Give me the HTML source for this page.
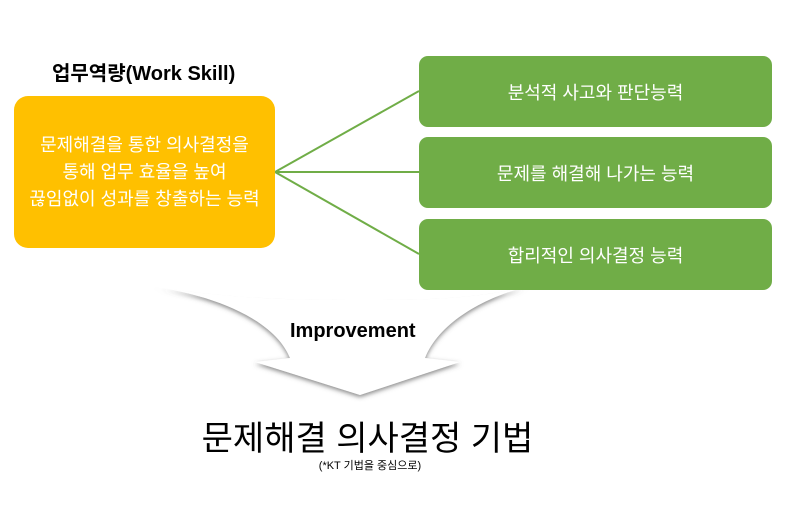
<!DOCTYPE html>
<html><head><meta charset="utf-8"><style>
body{margin:0;width:785px;height:530px;background:#fff;overflow:hidden;position:relative;font-family:"Liberation Sans","Noto Sans CJK KR",sans-serif}
.t{position:absolute}
.g{position:absolute;left:419px;width:353px;height:71px;background:#70AD47;border-radius:9px;color:#fff;font-size:18px;display:flex;align-items:center;justify-content:center}
</style></head><body>
<svg width="785" height="530" style="position:absolute;left:0;top:0">
<defs><filter id="s" x="-20%" y="-20%" width="140%" height="140%"><feDropShadow dx="0" dy="2" stdDeviation="2.5" flood-color="#555" flood-opacity="0.7"/></filter></defs>
<path d="M150,286 C215,295 275,320 290,358 L255,362 L360,395 L460,362 L425,358 C440,320 490,295 530,286 C470,300 420,300 360,300 C300,300 240,300 150,286 Z" fill="#fff" filter="url(#s)"/>
<path d="M150,286 C240,300 300,300 360,300 C420,300 470,300 530,286 L530,278 L150,278Z" fill="#fff"/>
<g stroke="#70AD47" stroke-width="2" fill="none">
<line x1="275" y1="172" x2="419" y2="91"/>
<line x1="275" y1="172" x2="419" y2="172"/>
<line x1="275" y1="172" x2="419" y2="254"/>
</g>
</svg>
<div class="t" style="left:52px;top:57px;font-size:20px;font-weight:bold">업무역량(Work Skill)</div>
<div class="t" style="left:14px;top:96px;width:261px;height:152px;background:#FFC000;border-radius:14px;color:#fff;font-size:18px;line-height:27px;display:flex;align-items:center;justify-content:center;text-align:center">문제해결을 통한 의사결정을<br>통해 업무 효율을 높여<br>끊임없이 성과를 창출하는 능력</div>
<div class="g" style="top:56px">분석적 사고와 판단능력</div>
<div class="g" style="top:137px">문제를 해결해 나가는 능력</div>
<div class="g" style="top:219px">합리적인 의사결정 능력</div>
<div class="t" style="left:290px;top:320px;font-size:20px;font-weight:bold">Improvement</div>
<div class="t" style="left:0;width:735px;top:411px;font-size:34px;text-align:center">문제해결 의사결정 기법</div>
<div class="t" style="left:0;width:740px;top:457px;font-size:11px;text-align:center">(*KT 기법을 중심으로)</div>
</body></html>
